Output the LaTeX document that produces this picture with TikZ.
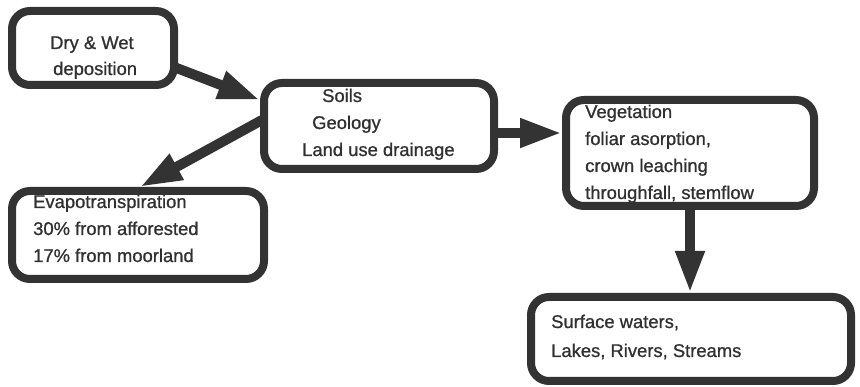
\documentclass[tikz,border=0pt]{standalone}
\usepackage{fontspec}
\setmainfont{Liberation Sans}[FakeBold=0.9]
\usetikzlibrary{arrows.meta,calc}
\definecolor{ink}{HTML}{333333}
\definecolor{txt}{HTML}{303030}
\tikzset{
  box/.style={draw=ink, line width=8pt, rounded corners=18pt, rectangle, inner sep=0pt},
  lbl/.style={anchor=base west, inner sep=0pt, text=txt, font=\fontsize{18.4pt}{27pt}\selectfont},
  flow/.style={draw=ink, line width=10pt, -{Triangle[length=42pt,width=27pt]}, shorten >=0pt}
}
\begin{document}
\begin{tikzpicture}[x=1pt,y=-1pt]
\useasboundingbox (0,0) rectangle (860,387);
% texts
\node[lbl] (t1a) at (50,49) {Dry \& Wet};
\node[lbl] (t1b) at (53,75) {deposition};
\node[lbl] (t2a) at (322,102) {Soils};
\node[lbl] (t2b) at (312,129) {Geology};
\node[lbl] (t2c) at (302,156) {Land use drainage};
\node[lbl] (t3a) at (585,118) {Vegetation};
\node[lbl] (t3b) at (585,145) {foliar asorption,};
\node[lbl] (t3c) at (585,172) {crown leaching};
\node[lbl] (t3d) at (585,199) {throughfall, stemflow};
\node[lbl] (t4a) at (33,208) {Evapotranspiration};
\node[lbl] (t4b) at (33,235) {30\% from afforested};
\node[lbl] (t4c) at (33,262) {17\% from moorland};
\node[lbl] (t5a) at (551,328) {Surface waters,};
\node[lbl] (t5b) at (551,357) {Lakes, Rivers, Streams};
% boxes
\node[box, minimum width=162pt, minimum height=74pt] (b1) at (93,48) {};
\node[box, minimum width=230pt, minimum height=86pt] (b2) at (379,126) {};
\node[box, minimum width=248pt, minimum height=106pt] (b3) at (690,153) {};
\node[box, minimum width=252pt, minimum height=88pt] (b4) at (138,235) {};
\node[box, minimum width=320pt, minimum height=84pt] (b5) at (691,339) {};
% connectors
\draw[flow] ([xshift=-4pt,yshift=-19pt]b1.east) -- ([yshift=26pt]b2.west);
\draw[flow] ([xshift=2pt,yshift=6pt]b2.west) -- ([xshift=2pt]b4.north);
\draw[flow] ([yshift=-7pt]b2.east) -- ([yshift=-7pt]b2.east -| b3.west);
\draw[flow] (b3.south) -- (b3.south |- b5.north);
\end{tikzpicture}
\end{document}
